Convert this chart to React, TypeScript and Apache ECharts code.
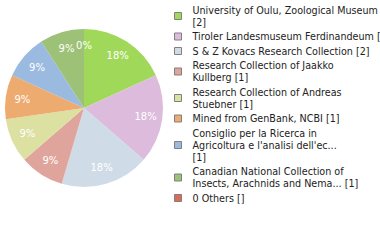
import React, { useEffect, useRef } from "react";
import * as echarts from "echarts";

const names = [
  "University of Oulu, Zoological Museum [2]",
  "Tiroler Landesmuseum Ferdinandeum [2]",
  "S & Z Kovacs Research Collection [2]",
  "Research Collection of Jaakko Kullberg [1]",
  "Research Collection of Andreas Stuebner [1]",
  "Mined from GenBank, NCBI [1]",
  "Consiglio per la Ricerca in Agricoltura e l'analisi dell'ec... [1]",
  "Canadian National Collection of Insects, Arachnids and Nema... [1]",
  "0 Others []",
];
const legendLabels = [
  "University of Oulu, Zoological Museum\n[2]",
  "Tiroler Landesmuseum Ferdinandeum [2]",
  "S & Z Kovacs Research Collection [2]",
  "Research Collection of Jaakko\nKullberg [1]",
  "Research Collection of Andreas\nStuebner [1]",
  "Mined from GenBank, NCBI [1]",
  "Consiglio per la Ricerca in\nAgricoltura e l'analisi dell'ec...\n[1]",
  "Canadian National Collection of\nInsects, Arachnids and Nema... [1]",
  "0 Others []",
];
const values = [2, 2, 2, 1, 1, 1, 1, 1, 0];
const colors = [
  "#a0d95a",
  "#dcbbdd",
  "#cfdce7",
  "#dfa59c",
  "#dce0a1",
  "#eeab6f",
  "#9bbadf",
  "#9dc176",
  "#dc6d54",
];

export default function App() {
  const ref = useRef<HTMLDivElement>(null);
  useEffect(() => {
    document.body.style.margin = "0";
    const chart = echarts.init(ref.current!, null, { renderer: "svg" });
    const total = values.reduce((a, b) => a + b, 0);
    const font = "DejaVu Sans";
    chart.setOption({
      animation: false,
      legend: {
        orient: "vertical",
        left: 174,
        top: 4,
        padding: 0,
        itemGap: 2.5,
        itemWidth: 7,
        itemHeight: 7,
        icon: "rect",
        selectedMode: false,
        data: names.map((n, i) => ({
          name: n,
          itemStyle: { color: colors[i], borderColor: "#808080", borderWidth: 1 },
        })),
        formatter: (n: string) => legendLabels[names.indexOf(n)],
        textStyle: {
          fontFamily: font,
          fontSize: 9.6,
          lineHeight: 12,
          color: "#222",
          padding: [0, 0, 0, 6],
        },
      },
      series: [
        {
          type: "pie",
          center: [84, 108],
          radius: 79,
          startAngle: 90,
          clockwise: true,
          label: { show: false },
          labelLine: { show: false },
          itemStyle: { borderWidth: 0 },
          emphasis: { disabled: true },
          data: names.map((n, i) => ({
            name: n,
            value: values[i],
            itemStyle: { color: colors[i] },
          })),
        },
        {
          type: "pie",
          center: [84, 108],
          radius: 118.5,
          startAngle: 90,
          clockwise: true,
          silent: true,
          z: 3,
          avoidLabelOverlap: false,
          itemStyle: { color: "rgba(0,0,0,0)", borderWidth: 0 },
          emphasis: { disabled: true },
          labelLine: { show: false },
          label: {
            show: true,
            position: "inside",
            color: "#fff",
            fontFamily: font,
            fontSize: 10,
            formatter: (p: any) => Math.round((p.value / total) * 100) + "%",
          },
          data: names.map((n, i) => ({ name: n, value: values[i] })),
        },
      ],
    });
    return () => chart.dispose();
  }, []);
  return (
    <div
      ref={ref}
      style={{ position: "absolute", left: 0, top: 0, width: 380, height: 240 }}
    />
  );
}
